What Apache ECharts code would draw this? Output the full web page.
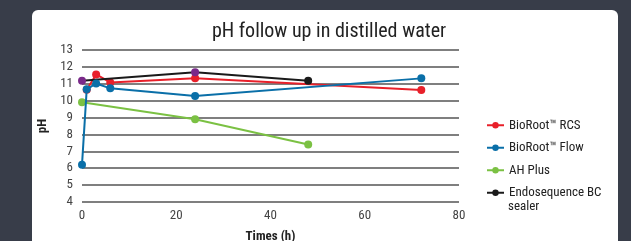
<!DOCTYPE html>
<html><head><meta charset="utf-8">
<script src="https://cdn.jsdelivr.net/npm/echarts@6/dist/echarts.min.js"></script>
<style>
html,body{margin:0;padding:0;width:631px;height:241px;background:#383d49;overflow:hidden;}
#panel{position:absolute;left:32px;top:10px;width:586px;height:260px;background:#fff;border-radius:6px;}
#c{position:absolute;left:0;top:0;width:631px;height:241px;}
</style></head>
<body>
<div id="panel"></div>
<div id="c"></div>
<script>
const seriesNames = ['BioRoot™ RCS', 'BioRoot™ Flow', 'AH Plus', 'Endosequence BC sealer'];
const rcs = [[1, 10.65], [3, 11.55], [6, 11.08], [24, 11.32], [72, 10.63]];
const flow = [[0, 6.2], [1, 10.67], [3, 11.02], [6, 10.73], [24, 10.27], [72, 11.32]];
const ahPlus = [[0, 9.9], [24, 8.9], [48, 7.4]];
const endo = [[0, 11.18], [24, 11.68], [48, 11.18]];
const xTicks = [0, 20, 40, 60, 80];
const yTicks = [4, 13];
const colors = ['#e8202a', '#0a6fa8', '#7bc143', '#1a1a1a'];
const font = '"Roboto Condensed", "Liberation Sans", Arial, sans-serif';

const chart = echarts.init(document.getElementById('c'), null, {renderer: 'canvas'});
function mk(name, data, color, z) {
  return {
    name, type: 'line', data, z,
    symbol: 'circle', symbolSize: 8,
    lineStyle: {width: 2, color},
    itemStyle: {color},
    emphasis: {disabled: true},
    animation: false
  };
}
const endoSeries = mk(seriesNames[3], endo.map((d, i) => (i < 2 ? {value: d, itemStyle: {color: '#7a2a8a'}} : d)), colors[3], 3);
chart.setOption({
  backgroundColor: 'transparent',
  animation: false,
  title: {
    text: 'pH follow up in distilled water', left: 324, top: 17, textAlign: 'center',
    textStyle: {fontFamily: font, fontSize: 20, fontWeight: 'normal', color: '#222'}
  },
  grid: {left: 82, right: 172, top: 50, bottom: 39, containLabel: false, outerBoundsMode: 'none'},
  xAxis: {
    type: 'value', min: xTicks[0], max: xTicks[xTicks.length - 1], interval: 20,
    name: 'Times (h)', nameLocation: 'middle', nameGap: 28,
    nameTextStyle: {fontFamily: font, fontSize: 13, fontWeight: 'bold', color: '#222'},
    axisLine: {show: false}, axisTick: {show: false}, splitLine: {show: false},
    axisLabel: {fontFamily: font, fontSize: 13, color: '#444', margin: 7}
  },
  yAxis: {
    type: 'value', min: yTicks[0], max: yTicks[1], interval: 1,
    name: 'pH', nameLocation: 'middle', nameGap: 23, nameRotate: 90,
    nameTextStyle: {fontFamily: font, fontSize: 13, fontWeight: 'bold', color: '#222'},
    axisLine: {show: false}, axisTick: {show: false},
    splitLine: {show: true, lineStyle: {color: '#555', width: 1.5}},
    axisLabel: {fontFamily: font, fontSize: 13, color: '#444', margin: 9}
  },
  legend: {
    orient: 'vertical', left: 486, top: 117, itemGap: 6, padding: 0,
    itemWidth: 17, itemHeight: 8, height: 130,
    textStyle: {fontFamily: font, fontSize: 13, color: '#222', lineHeight: 16.5},
    formatter: n => (n === seriesNames[3] ? 'Endosequence BC' : n),
    data: seriesNames
  },
  graphic: [{
    type: 'text', left: 508, top: 200,
    style: {text: 'sealer', fontFamily: font, fontSize: 13, fill: '#222'}
  }],
  series: [
    mk(seriesNames[0], rcs, colors[0], 2),
    mk(seriesNames[1], flow, colors[1], 4),
    mk(seriesNames[2], ahPlus, colors[2], 2),
    endoSeries
  ]
});
</script>
</body></html>
